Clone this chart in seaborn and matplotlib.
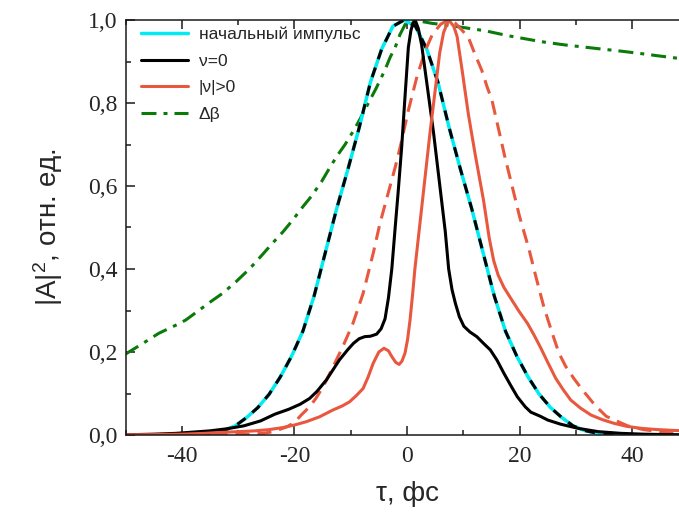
import numpy as np
import pandas as pd
import matplotlib
matplotlib.use("Agg")
import matplotlib.pyplot as plt
from matplotlib.ticker import MultipleLocator, FuncFormatter
from matplotlib.lines import Line2D
import seaborn as sns

# ---------------- data ----------------
tau_init = [-50, -44.5, -40.5, -38.5, -36.5, -34.5, -32.5, -30.5, -28.5, -26.5, -24.5,
            -22.5, -20.5, -18.5, -16.5, -14.5, -12.5, -10.5, -8.5, -6.5, -4.5, -2.5, -0.5,
            1.5, 3.5, 5.5, 7.5, 9.5, 11.5, 13.5, 15.5, 17.5, 19.5, 21.5, 23.5, 25.5, 27.5,
            29.5, 31.5, 33.5, 35.5, 37.5, 39.5, 43.5, 50]
a_init = [0, 0.0002, 0.0005, 0.001, 0.0025, 0.005, 0.011, 0.022, 0.042, 0.066, 0.098,
          0.14, 0.19, 0.25, 0.335, 0.44, 0.545, 0.64, 0.74, 0.85, 0.93, 0.985, 1.0,
          0.985, 0.93, 0.85, 0.74, 0.64, 0.545, 0.44, 0.335, 0.25, 0.19, 0.14, 0.098,
          0.066, 0.042, 0.022, 0.011, 0.005, 0.0025, 0.001, 0.0005, 0.0002, 0]

tau_nu0 = [-50, -45, -41, -38, -35, -32, -29, -26, -23.5, -21,
           -19, -17.3, -16, -14.3, -12, -10.5, -9.5, -8.5, -7.5, -6.5,
           -5.4, -4.6, -3.9, -3.3, -2.7, -2.1, -1.55, -0.95, -0.36, 0.24,
           0.7, 1.1, 1.5, 2.0, 2.6, 3.3, 4.0, 4.7, 5.4, 6.1,
           6.8, 7.4, 8.0, 8.6, 9.3, 10.1, 11.2, 12.4, 13.5, 14.8,
           16.0, 17.2, 18.4, 19.6, 21.0, 22.0, 23.7, 25.0, 27.3, 30.4,
           34, 38, 42, 46, 50]
a_nu0 = [0.0005, 0.002, 0.004, 0.007, 0.01, 0.015, 0.022, 0.034, 0.05, 0.062,
         0.074, 0.088, 0.105, 0.133, 0.181, 0.206, 0.221, 0.232, 0.237, 0.238,
         0.243, 0.256, 0.28, 0.33, 0.40, 0.50, 0.589, 0.693, 0.814, 0.934,
         0.975, 0.993, 0.998, 0.98, 0.94, 0.87, 0.80, 0.73, 0.65, 0.57,
         0.49, 0.40, 0.35, 0.317, 0.285, 0.262, 0.248, 0.237, 0.222, 0.205,
         0.18, 0.149, 0.12, 0.092, 0.068, 0.055, 0.045, 0.036, 0.026, 0.016,
         0.008, 0.004, 0.002, 0.001, 0.0005]

tau_nu = [-50, -45, -40, -36, -33.4, -30, -27, -24.5, -22, -20,
          -17.9, -15.5, -13.2, -11.5, -10.2, -9, -7.8, -6.9, -6.0, -5.0,
          -4.1, -3.3, -2.7, -2.0, -1.4, -0.9, -0.36, 0.1, 0.54, 1.0,
          1.4, 2.3, 3.2, 4.1, 5.0, 5.8, 6.5, 7.4, 8.3, 8.9,
          9.8, 10.9, 12.1, 13.6, 14.6, 15.4, 16.2, 17.2, 18.4, 19.9, 21.4,
          22.6, 23.75, 25, 26.4, 27.7, 29.1, 30.8, 32.7, 34.7, 36.8,
          39, 41.6, 44.5, 47.5, 50]
a_nu = [0.0005, 0.001, 0.002, 0.004, 0.006, 0.008, 0.01, 0.013, 0.018, 0.024,
        0.032, 0.044, 0.06, 0.07, 0.08, 0.095, 0.112, 0.14, 0.173, 0.2,
        0.209, 0.203, 0.189, 0.175, 0.17, 0.178, 0.197, 0.23, 0.277, 0.34,
        0.40, 0.51, 0.62, 0.73, 0.83, 0.92, 0.97, 1.0, 0.985, 0.96,
        0.878, 0.773, 0.677, 0.565, 0.475, 0.42, 0.385, 0.356, 0.33, 0.298, 0.269,
        0.24, 0.21, 0.175, 0.137, 0.11, 0.084, 0.065, 0.048, 0.037, 0.028,
        0.021, 0.016, 0.013, 0.011, 0.01]

tau_nud = [-50, -40, -32, -28, -25.5, -23.8, -22.5, -21.3, -20, -18.8,
           -17.3, -16.2, -14.9, -13.4, -11.4, -9.6, -7.8, -6.0, -4.8, -3.0,
           -2.1, -1.1, 0.2, 1.7, 3.2, 4.5, 6, 7.3, 8.6, 9.8,
           10.9, 12, 13.3, 14.2, 15.1, 16.3, 17.3, 18.7, 20, 21.7,
           22.9, 24.3, 25.8, 27, 28.2, 29.7, 31.2, 33.5, 35.4, 37.7,
           39.2, 42, 46, 50]
a_nud = [0, 0.0005, 0.001, 0.002, 0.004, 0.008, 0.014, 0.02, 0.03, 0.048,
         0.068, 0.088, 0.116, 0.157, 0.213, 0.269, 0.341, 0.438, 0.51, 0.60,
         0.645, 0.70, 0.78, 0.86, 0.925, 0.965, 0.99, 1.0, 0.992, 0.975,
         0.958, 0.92, 0.878, 0.84, 0.806, 0.735, 0.675, 0.598, 0.526, 0.446,
         0.381, 0.309, 0.245, 0.197, 0.165, 0.135, 0.108, 0.07, 0.045, 0.031,
         0.022, 0.013, 0.006, 0.003]

tau_db = [-50, -47, -44.1, -41, -39.3, -37, -35, -32.8, -30.4, -28, -26.25, -23.9,
          -22, -20.3, -18.5, -17, -15.2, -13.9, -12.55, -11, -9.6, -8.4, -7.2, -5.5,
          -3.9, -3.0, -2.1, -1.25, -0.3, 0.8, 2.0, 4.4, 8, 13.9, 18, 23.75, 28, 33.9,
          38, 41.6, 45, 48.6, 50]
a_db = [0.195, 0.22, 0.245, 0.265, 0.277, 0.30, 0.32, 0.341, 0.369, 0.40, 0.426, 0.462,
        0.49, 0.518, 0.55, 0.575, 0.61, 0.64, 0.67, 0.70, 0.731, 0.76, 0.791, 0.835,
        0.88, 0.91, 0.934, 0.965, 0.99, 1.0, 0.998, 0.992, 0.986, 0.974, 0.962, 0.948,
        0.94, 0.931, 0.925, 0.919, 0.913, 0.907, 0.905]

labels = ["начальный импульс", "ν=0", "|ν|>0", "Δβ"]
x_ticks = [-40, -20, 0, 20, 40]
y_ticks = [0.0, 0.2, 0.4, 0.6, 0.8, 1.0]

# ---------------- style ----------------
sns.set_style("ticks")
plt.rcParams['font.family'] = ['Liberation Sans', 'DejaVu Sans']
plt.rcParams['mathtext.fontset'] = 'custom'
plt.rcParams['mathtext.rm'] = 'Liberation Sans'
plt.rcParams['mathtext.it'] = 'Liberation Sans:italic'
plt.rcParams['axes.unicode_minus'] = False

C_CYAN = "#00ECF2"
C_BLACK = "#000000"
C_RED = "#E8583E"
C_GREEN = "#0A7A0A"
LW = 2.2

fig = plt.figure(figsize=(6.79, 5.20), dpi=100)
ax = fig.add_axes([125.5 / 679, 85 / 520, 563 / 679, 415 / 520])

ls_black_dash = (0, (3.3, 2.9))
ls_red_dash = (0, (4.6, 2.6))
ls_green = (0, (4.9, 2.3, 1.3, 2.3))

sns.lineplot(x=tau_db, y=a_db, ax=ax, color=C_GREEN, lw=LW, linestyle=ls_green,
             estimator=None, sort=False)
sns.lineplot(x=tau_init, y=a_init, ax=ax, color=C_CYAN, lw=LW + 0.3,
             estimator=None, sort=False)
sns.lineplot(x=tau_init, y=a_init, ax=ax, color=C_BLACK, lw=LW, linestyle=ls_black_dash,
             estimator=None, sort=False)
sns.lineplot(x=tau_nud, y=a_nud, ax=ax, color=C_RED, lw=LW, linestyle=ls_red_dash,
             estimator=None, sort=False)
sns.lineplot(x=tau_nu0, y=a_nu0, ax=ax, color=C_BLACK, lw=LW,
             estimator=None, sort=False)
sns.lineplot(x=tau_nu, y=a_nu, ax=ax, color=C_RED, lw=LW,
             estimator=None, sort=False)
for ln in ax.lines:
    ln.set_dash_capstyle('butt')
    ln.set_solid_joinstyle('round')

ax.set_xlim(-50, 50)
ax.set_ylim(0, 1.0)
ax.set_xticks(x_ticks)
ax.set_yticks(y_ticks)
ax.xaxis.set_minor_locator(MultipleLocator(10))
ax.yaxis.set_minor_locator(MultipleLocator(0.1))
ax.xaxis.set_major_formatter(FuncFormatter(lambda v, p: f"{v:.0f}"))
ax.yaxis.set_major_formatter(FuncFormatter(lambda v, p: f"{v:.1f}".replace('.', ',')))

for sp in ax.spines.values():
    sp.set_visible(True)
    sp.set_linewidth(1.1)
    sp.set_color("#1a1a1a")

ax.tick_params(which='both', direction='in', top=True, right=True, width=1.1,
               color="#1a1a1a")
ax.tick_params(which='major', length=6.5)
ax.tick_params(which='minor', length=3.8)
ax.tick_params(axis='x', which='major', pad=8)
ax.tick_params(axis='y', which='major', pad=6)
for t in ax.get_xticklabels() + ax.get_yticklabels():
    t.set_fontfamily(['Liberation Serif', 'DejaVu Serif'])
    t.set_fontsize(17)

ax.set_xlabel("τ, фс", fontsize=20, labelpad=10)
ax.set_ylabel("|A|$^{2}$, отн. ед.", fontsize=20, labelpad=16)

handles = [
    Line2D([], [], color=C_CYAN, lw=LW + 0.3),
    Line2D([], [], color=C_BLACK, lw=LW),
    Line2D([], [], color=C_RED, lw=LW),
    Line2D([], [], color=C_GREEN, lw=LW, linestyle=ls_green),
]
leg = ax.legend(handles, labels, loc='upper left', bbox_to_anchor=(0.028, 0.984),
                frameon=False, fontsize=12.5, handlelength=2.7, handletextpad=0.6,
                labelspacing=0.66, borderaxespad=0, borderpad=0)

fig.savefig("out.png", dpi=100)
